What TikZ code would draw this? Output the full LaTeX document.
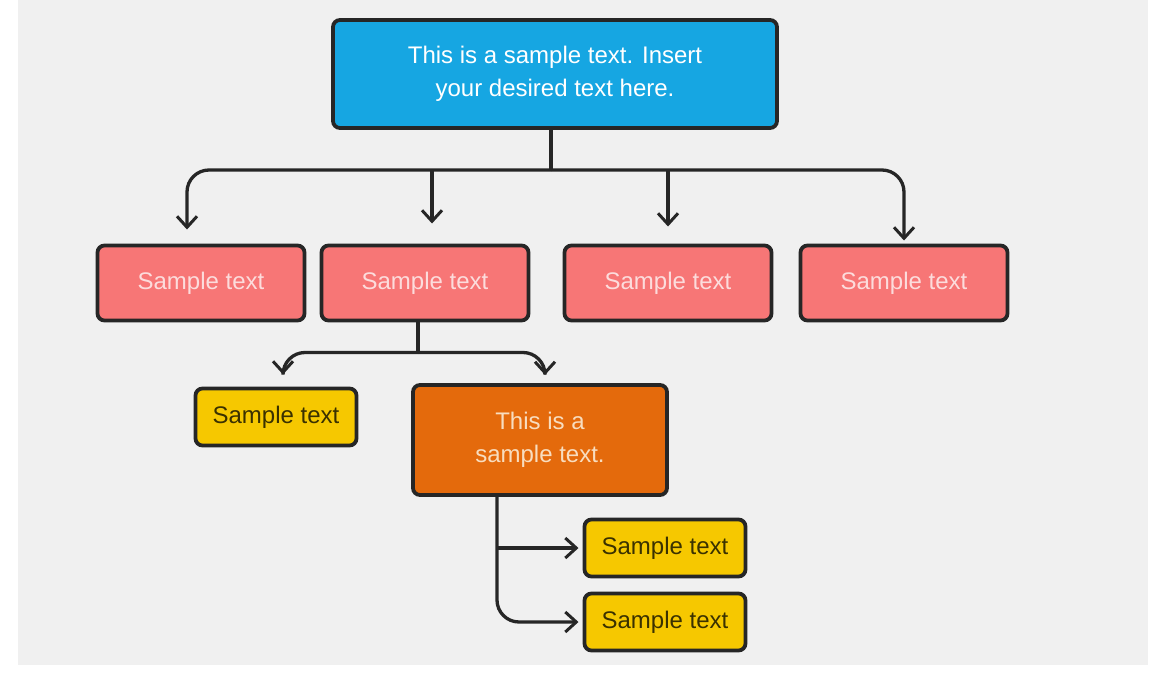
\documentclass[tikz,border=0pt]{standalone}
\usepackage{fontspec}
\setmainfont{Liberation Sans}
\usetikzlibrary{arrows.meta}

\definecolor{bggray}{HTML}{F0F0F0}
\definecolor{rootblue}{HTML}{16A6E2}
\definecolor{boxpink}{HTML}{F77676}
\definecolor{boxyellow}{HTML}{F6C800}
\definecolor{boxorange}{HTML}{E46A0C}
\definecolor{inkdark}{HTML}{262626}
\definecolor{txtpink}{HTML}{FCDCDC}
\definecolor{txtorange}{HTML}{F8DDBF}
\definecolor{txtyellow}{HTML}{3A3100}

\begin{document}
\begin{tikzpicture}[
		x=1pt, y=-1pt,
		>={Straight Barb[length=11pt,width=20pt,line width=3pt]},
		every node/.style = {
			draw=inkdark, rectangle,
			line width=3.8pt,
			rounded corners=7pt,
			align=center,
			font=\fontsize{24}{33}\selectfont,
			outer sep=0pt, inner sep=0pt
		},
		rootbox/.style = {fill=rootblue, text=white, minimum width=444pt, minimum height=108pt},
		pinkbox/.style = {fill=boxpink, text=txtpink, minimum width=207pt, minimum height=75pt},
		orangebox/.style = {fill=boxorange, text=txtorange, minimum width=254pt, minimum height=110pt},
		yellowbox/.style = {fill=boxyellow, text=txtyellow, minimum width=161pt, minimum height=57pt},
		link/.style = {draw=inkdark, line width=3.3pt, rounded corners=22pt}
		]
		% background
		\fill[white] (0,0) rectangle (1152,683);
		\fill[bggray] (18,0) rectangle (1148,665);
		\useasboundingbox (0,0) rectangle (1152,683);

		\node[rootbox] (root) at (555, 74) {This is a sample text. Insert\\your desired text here.};
		\node[pinkbox] (s1) at (201, 283) {Sample text};
		\node[pinkbox] (s2) at (425, 283) {Sample text};
		\node[pinkbox] (s3) at (668, 283) {Sample text};
		\node[pinkbox] (s4) at (904, 283) {Sample text};
		\node[yellowbox] (t1) at (276, 417) {Sample text};
		\node[orangebox] (t2) at (540, 440) {This is a\\sample text.};
		\node[yellowbox] (u1) at (665, 548) {Sample text};
		\node[yellowbox] (u2) at (665, 622) {Sample text};

		\coordinate (j1) at ([xshift=-4pt, yshift=-42pt]root.south);
		\coordinate (j2) at ([xshift=-7pt, yshift=-32pt]s2.south);
		\coordinate (j3) at ([xshift=-43pt]t2.south);
		\coordinate (a2) at ([xshift=7pt]s2.north);

		% first level
		\draw[link] (root.south -| j1) -- (j1);
		\draw[link, ->, shorten >=16pt] (j1) -| ([xshift=-14pt]s1.north);
		\draw[link, ->, shorten >=22pt] (j1 -| a2) -- (a2);
		\draw[link, ->, shorten >=19pt] (j1 -| s3.north) -- (s3.north);
		\draw[link, ->, shorten >=5pt] (j1) -| (s4.north);

		% second level
		\draw[link] ([xshift=-7pt]s2.south) -- (j2);
		\draw[link, ->, shorten >=14pt] (j2) -| ([xshift=7pt]t1.north);
		\draw[link, ->, shorten >=10pt] (j2) -| ([xshift=5pt]t2.north);

		% third level
		\draw[link, ->, shorten >=6pt] (j3) |- (u2.west);
		\draw[link, ->, shorten >=6pt] (j3 |- u1.west) -- (u1.west);
	\end{tikzpicture}
\end{document}
